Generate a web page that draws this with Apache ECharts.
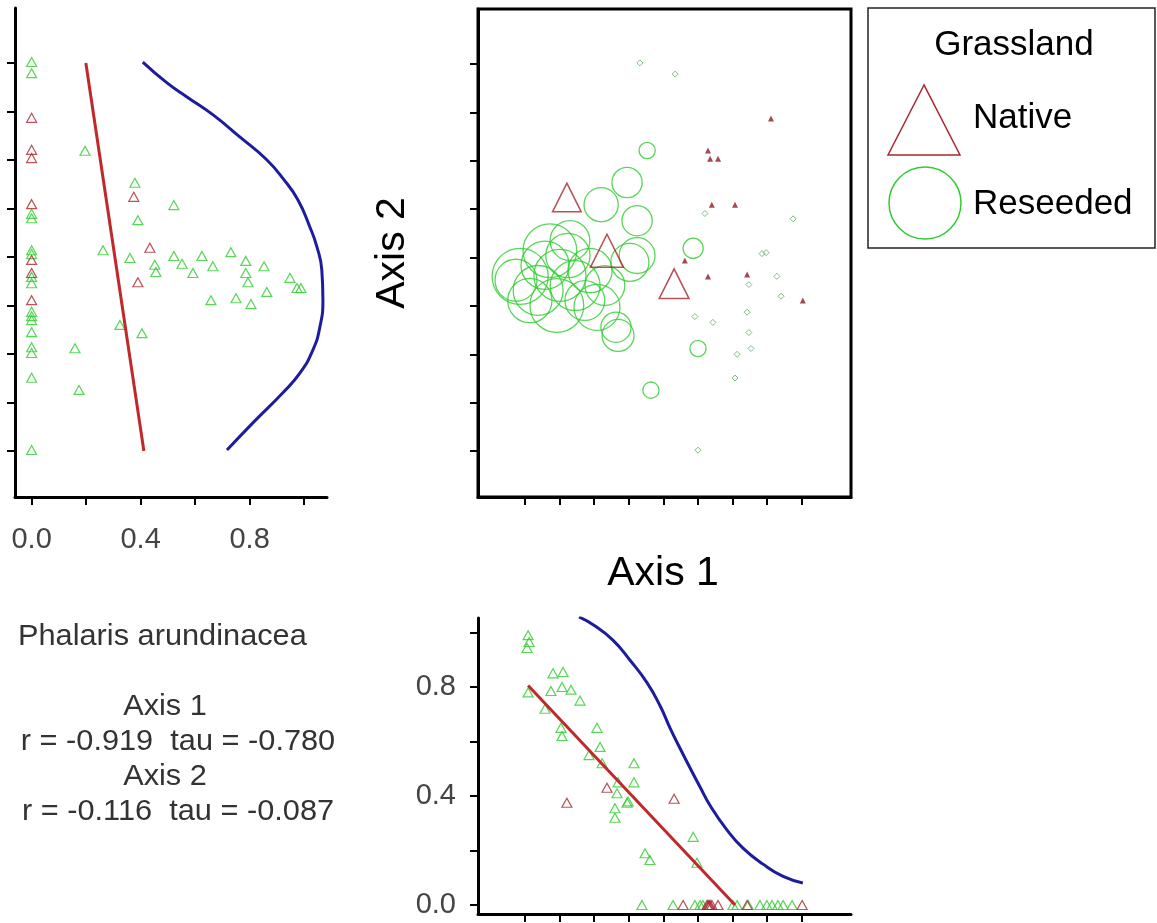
<!DOCTYPE html>
<html>
<head>
<meta charset="utf-8">
<title>Phalaris arundinacea</title>
<script src="https://cdn.jsdelivr.net/npm/echarts/dist/echarts.min.js"></script>
<style>
  html, body { margin: 0; padding: 0; background: #fff; }
  #chart { width: 1157px; height: 923px; }
</style>
</head>
<body>
<div id="chart"></div>
<script>
// tick positions
const abundTicks = [0, 0.2, 0.4, 0.6, 0.8, 1.0]
const abundLabels = [0, 0.4, 0.8]
const ordTicks = [0, 1, 2, 3, 4, 5, 6, 7, 8]

// left panel: [abundance, axis 2]
const leftGreen = [
  [0, 8.02], [0, 7.79], [0, 4.89], [0, 4.80], [0, 4.14], [0, 4.06], [0, 3.59], [0, 3.46],
  [0, 2.87], [0, 2.78], [0, 2.70], [0, 2.45], [0, 2.14], [0, 2.02], [0, 1.51], [0, 0.02],
  [0.196, 6.19], [0.379, 5.53], [0.522, 5.07], [0.390, 4.76], [0.262, 4.14], [0.361, 3.98],
  [0.522, 4.02], [0.552, 3.86], [0.452, 3.84], [0.456, 3.69], [0.625, 4.02], [0.665, 3.81],
  [0.592, 3.67], [0.731, 4.10], [0.786, 3.92], [0.853, 3.81], [0.786, 3.67], [0.794, 3.48],
  [0.948, 3.57], [0.974, 3.36], [0.988, 3.36], [0.863, 3.28], [0.658, 3.11], [0.750, 3.15],
  [0.805, 3.03], [0.324, 2.60], [0.405, 2.43], [0.159, 2.12], [0.174, 1.26]
]
const leftRed = [
  [0, 6.87], [0, 6.21], [0, 6.04], [0, 5.09], [0, 3.94], [0, 3.67], [0, 3.11],
  [0.375, 5.24], [0.434, 4.19], [0.390, 3.48]
]
const leftFit = [[0.199, 8.0], [0.412, 0.0]]
const leftCurve = [
  [0.408, 8.02], [0.497, 7.59], [0.570, 7.30], [0.666, 6.93], [0.765, 6.47], [0.860, 6.02],
  [0.925, 5.60], [0.977, 5.18], [1.021, 4.62], [1.047, 4.21], [1.065, 3.73], [1.069, 3.11],
  [1.058, 2.56], [1.032, 2.08], [0.985, 1.61], [0.922, 1.20], [0.812, 0.58], [0.717, 0.02]
]

// ordination: [axis 1, axis 2, abundance]
const reseededSites = [
  [3.53, 6.21, 0.29], [2.95, 5.55, 0.54], [2.20, 5.09, 0.61], [3.24, 4.76, 0.54],
  [3.24, 4.04, 0.64], [3.03, 3.90, 0.68], [4.86, 4.19, 0.36], [5.00, 2.12, 0.29],
  [3.64, 1.26, 0.29], [2.63, 2.56, 0.54], [2.69, 2.39, 0.57], [-0.14, 3.61, 1.0],
  [-0.26, 3.53, 0.75], [0.72, 4.14, 0.96], [0.92, 3.01, 0.96], [2.08, 2.97, 0.82],
  [1.24, 4.04, 0.79], [0.38, 3.32, 0.89], [0.58, 3.84, 0.86], [1.45, 3.42, 0.89],
  [1.88, 3.73, 0.79], [1.73, 3.11, 0.71], [1.01, 3.63, 0.93], [2.31, 3.42, 0.71],
  [1.30, 4.35, 0.71], [0.14, 3.11, 0.79]
]
const nativeSites = [[1.21, 5.24, 0.375], [2.37, 4.14, 0.434], [4.31, 3.46, 0.39]]
const reseededAbsent = [
  [3.32, 8.02], [4.34, 7.79], [5.20, 4.91], [7.75, 4.80], [6.85, 4.08], [6.97, 4.10],
  [7.28, 3.61], [6.47, 3.44], [7.40, 3.20], [4.91, 2.78], [5.43, 2.66], [6.42, 2.87],
  [6.47, 2.45], [6.13, 2.00], [6.53, 2.12], [6.07, 1.51], [5.00, 0.02]
]
const nativeAbsent = [
  [7.11, 6.87], [5.29, 6.21], [5.35, 6.04], [5.58, 6.04], [5.40, 5.09], [6.07, 5.09],
  [4.62, 3.94], [5.29, 3.61], [6.42, 3.65], [8.03, 3.11]
]

// bottom panel: [axis 1, abundance]
const bottomGreen = [
  [0.09, 0.99], [0.12, 0.965], [0.06, 0.943], [0.81, 0.85], [1.10, 0.855], [0.09, 0.78],
  [0.75, 0.785], [1.07, 0.80], [1.33, 0.79], [1.59, 0.75], [0.58, 0.72], [1.04, 0.65],
  [1.07, 0.62], [2.08, 0.65], [2.17, 0.58], [1.85, 0.55], [2.23, 0.52], [3.15, 0.52],
  [3.15, 0.45], [2.69, 0.45], [2.66, 0.41], [2.95, 0.375], [2.98, 0.38], [2.60, 0.355],
  [2.60, 0.32], [4.86, 0.25], [4.97, 0.155], [3.47, 0.19], [3.61, 0.165],
  [3.38, 0], [4.28, 0], [4.91, 0], [5.06, 0], [5.14, 0], [6.01, 0], [6.13, 0], [6.45, 0],
  [6.79, 0], [6.99, 0], [7.14, 0], [7.31, 0], [7.46, 0], [7.72, 0]
]
const bottomRed = [
  [1.21, 0.375], [2.37, 0.43], [4.31, 0.39],
  [4.57, 0], [5.26, 0], [5.29, 0], [5.32, 0], [5.35, 0], [5.40, 0], [5.58, 0], [6.42, 0], [8.01, 0]
]
const bottomFit = [[0.09, 0.805], [6.07, 0]]
const bottomCurve = [
  [1.56, 1.057], [1.97, 1.028], [2.54, 0.972], [3.03, 0.899], [3.53, 0.815], [3.90, 0.732],
  [4.19, 0.650], [4.48, 0.575], [4.77, 0.503], [5.06, 0.433], [5.35, 0.365], [5.84, 0.275],
  [6.30, 0.209], [6.88, 0.150], [7.46, 0.105], [8.03, 0.081]
]

const FONT = '"Liberation Sans", Arial, sans-serif'
const GREEN = "#2ecc2e"
const RED = "#a8282e"

const lineStyleAxis = { color: "#000", width: 3 }
const tickStyle = { color: "#000", width: 2 }

const abundAxis = (extra) => Object.assign({
  type: "value",
  axisLine: { show: true, onZero: false, lineStyle: lineStyleAxis },
  axisTick: { show: true, length: 8, lineStyle: tickStyle, customValues: abundTicks },
  axisLabel: {
    show: true, customValues: abundLabels, margin: 28,
    color: "#444", fontSize: 29, fontFamily: FONT,
    formatter: (v) => (+v).toFixed(1),
  },
  splitLine: { show: false },
}, extra)

const ordAxis = (extra) => Object.assign({
  type: "value",
  axisLine: { show: true, onZero: false, lineStyle: lineStyleAxis },
  axisTick: { show: true, length: 8, lineStyle: tickStyle, customValues: ordTicks },
  axisLabel: { show: false },
  splitLine: { show: false },
}, extra)

const hollowTri = (color) => ({
  symbol: "triangle",
  symbolSize: [10, 9],
  itemStyle: { color: "rgba(0,0,0,0)", borderColor: color, borderWidth: 1.2 },
})

// stats block text, a little wider than Arial
const statText = (x, y, text, align) => ({
  type: "text", x: x, y: y, scaleX: 1.06,
  style: { text: text, fill: "#333", fontSize: 29, fontFamily: FONT, align: align || "center", verticalAlign: "middle" },
})

const option = {
  animation: false,
  grid: [
    { left: 15, top: 8, width: 312, height: 489 },
    { left: 478, top: 9, width: 373, height: 488, show: true, borderColor: "#000", borderWidth: 3 },
    { left: 478, top: 618, width: 373, height: 296 },
  ],
  xAxis: [
    abundAxis({ gridIndex: 0, min: -0.061, max: 1.084 }),
    ordAxis({ gridIndex: 1, min: -1.358, max: 9.422 }),
    ordAxis({ gridIndex: 2, min: -1.358, max: 9.422 }),
  ],
  yAxis: [
    ordAxis({ gridIndex: 0, min: -0.948, max: 9.134 }),
    ordAxis({ gridIndex: 1, min: -0.948, max: 9.134 }),
    abundAxis({ gridIndex: 2, min: -0.033, max: 1.053, axisLabel: {
      show: true, customValues: abundLabels, margin: 22,
      color: "#444", fontSize: 29, fontFamily: FONT,
      formatter: (v) => (+v).toFixed(1),
    } }),
  ],
  series: [
    // left panel
    Object.assign({ type: "scatter", xAxisIndex: 0, yAxisIndex: 0, data: leftGreen }, hollowTri(GREEN)),
    Object.assign({ type: "scatter", xAxisIndex: 0, yAxisIndex: 0, data: leftRed }, hollowTri(RED)),
    {
      type: "line", xAxisIndex: 0, yAxisIndex: 0, data: leftFit, showSymbol: false,
      lineStyle: { color: "#c0282c", width: 3 },
    },
    {
      type: "line", xAxisIndex: 0, yAxisIndex: 0, data: leftCurve, showSymbol: false, smooth: 0.5,
      lineStyle: { color: "#1c1c9c", width: 3 },
    },
    // ordination
    {
      type: "scatter", xAxisIndex: 1, yAxisIndex: 1, data: reseededSites,
      symbol: "circle", symbolSize: (v) => v[2] * 56,
      itemStyle: { color: "rgba(0,0,0,0)", borderColor: GREEN, borderWidth: 1.3 },
    },
    {
      type: "scatter", xAxisIndex: 1, yAxisIndex: 1, data: nativeSites,
      symbol: "triangle", symbolSize: (v) => v[2] * 76,
      itemStyle: { color: "rgba(0,0,0,0)", borderColor: RED, borderWidth: 1.6 },
    },
    {
      type: "scatter", xAxisIndex: 1, yAxisIndex: 1, data: reseededAbsent,
      symbol: "diamond", symbolSize: 6,
      itemStyle: { color: "rgba(0,0,0,0)", borderColor: "#5fae5f", borderWidth: 1 },
    },
    {
      type: "scatter", xAxisIndex: 1, yAxisIndex: 1, data: nativeAbsent,
      symbol: "triangle", symbolSize: 6,
      itemStyle: { color: "#8c1c24" },
    },
    // bottom panel
    Object.assign({ type: "scatter", xAxisIndex: 2, yAxisIndex: 2, data: bottomGreen }, hollowTri(GREEN)),
    Object.assign({ type: "scatter", xAxisIndex: 2, yAxisIndex: 2, data: bottomRed }, hollowTri(RED)),
    {
      type: "line", xAxisIndex: 2, yAxisIndex: 2, data: bottomFit, showSymbol: false,
      lineStyle: { color: "#c0282c", width: 3 },
    },
    {
      type: "line", xAxisIndex: 2, yAxisIndex: 2, data: bottomCurve, showSymbol: false, smooth: 0.5,
      lineStyle: { color: "#1c1c9c", width: 3 },
    },
  ],
  graphic: [
    {
      type: "text", x: 393, y: 253, rotation: Math.PI / 2,
      style: { text: "Axis 2", fill: "#000", fontSize: 41, fontFamily: FONT, align: "center", verticalAlign: "middle" },
    },
    {
      type: "text", x: 663, y: 574,
      style: { text: "Axis 1", fill: "#000", fontSize: 41, fontFamily: FONT, align: "center", verticalAlign: "middle" },
    },
    statText(18, 637, "Phalaris arundinacea", "left"),
    statText(165, 707, "Axis 1"),
    statText(178, 742, "r = -0.919  tau = -0.780"),
    statText(165, 777, "Axis 2"),
    statText(178, 812, "r = -0.116  tau = -0.087"),
    // legend
    {
      type: "rect", shape: { x: 868, y: 8, width: 287, height: 240 },
      style: { fill: "#fff", stroke: "#222", lineWidth: 1.5 },
    },
    {
      type: "text", x: 1014, y: 45,
      style: { text: "Grassland", fill: "#000", fontSize: 35, fontFamily: FONT, align: "center", verticalAlign: "middle" },
    },
    {
      type: "polygon", shape: { points: [[924, 85], [888, 155], [960, 155]] },
      style: { fill: "none", stroke: RED, lineWidth: 1.5 },
    },
    {
      type: "text", x: 973, y: 118,
      style: { text: "Native", fill: "#000", fontSize: 35, fontFamily: FONT, align: "left", verticalAlign: "middle" },
    },
    {
      type: "circle", shape: { cx: 925, cy: 203, r: 36 },
      style: { fill: "none", stroke: GREEN, lineWidth: 1.5 },
    },
    {
      type: "text", x: 973, y: 204,
      style: { text: "Reseeded", fill: "#000", fontSize: 35, fontFamily: FONT, align: "left", verticalAlign: "middle" },
    },
  ],
}

const chart = echarts.init(document.getElementById("chart"))
chart.setOption(option)
window.addEventListener("resize", () => {
  chart.resize()
})
</script>
</body>
</html>
